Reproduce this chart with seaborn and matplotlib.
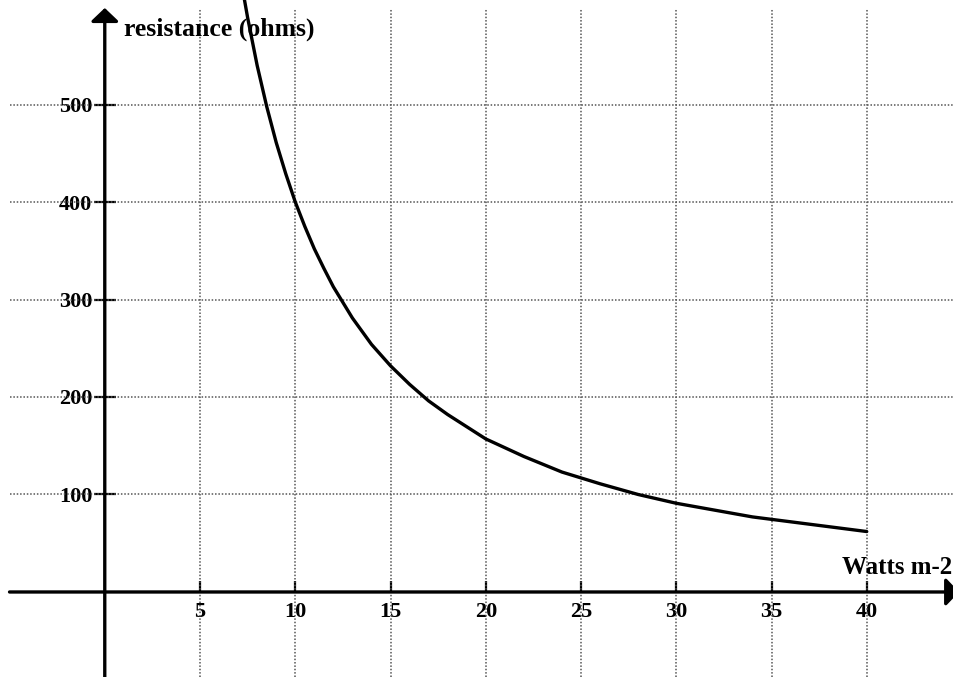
import matplotlib
matplotlib.use("Agg")
import matplotlib.pyplot as plt
import seaborn as sns
import pandas as pd

# ---- data ----
watts = [7.2, 7.5, 8, 8.5, 9, 9.5, 10, 10.5, 11, 11.5, 12, 13, 14, 15, 16, 17, 18,
         20, 22, 24, 26, 28, 30, 32, 34, 36, 38, 40]
resistance = [622, 589, 540, 498, 461, 429, 400, 375, 352, 332, 313, 281, 254, 232,
              213, 196, 182, 157, 139, 123, 111, 100, 91, 84, 77, 72, 67, 62]
x_ticks = [5, 10, 15, 20, 25, 30, 35, 40]
x_tick_labels = ["5", "10", "15", "20", "25", "30", "35", "40"]
y_ticks = [100, 200, 300, 400, 500]
y_tick_labels = ["100", "200", "300", "400", "500"]
y_title = "resistance (ohms)"
x_title = "Watts m-2"

df = pd.DataFrame({"watts": watts, "resistance": resistance})

sns.set_style("white")
plt.rcParams["font.family"] = ["Liberation Serif", "DejaVu Serif"]
plt.rcParams["text.color"] = "black"
plt.rcParams["xtick.color"] = "black"
plt.rcParams["ytick.color"] = "black"

fig = plt.figure(figsize=(9.54, 6.77), dpi=100)
ax = fig.add_axes([0, 0, 1, 1])
ax.set_xlim(-5.5, 44.58)
ax.set_ylim(-87.2, 607.2)

# dotted grid
grid_kw = dict(color="#555555", linewidth=1.1, linestyle=(0, (1, 1.2)), zorder=1)
ax.vlines(x_ticks, -87.2, 598, **grid_kw)
ax.hlines(y_ticks, -5.0, 44.58, **grid_kw)

# curve
sns.lineplot(data=df, x="watts", y="resistance", color="black", linewidth=2.4,
             sort=False, ax=ax, zorder=4)

# axes through the origin
for s in ax.spines.values():
    s.set_visible(False)
ax.spines["left"].set_position(("data", 0))
ax.spines["bottom"].set_position(("data", 0))

ax.set_xticks(x_ticks)
ax.set_xticklabels(x_tick_labels)
ax.set_yticks(y_ticks)
ax.set_yticklabels(y_tick_labels)
ax.tick_params(axis="x", bottom=True, top=False, direction="in", length=8,
               width=1.6, color="black", labelcolor="black", pad=7, labelsize=16)
ax.tick_params(axis="y", left=True, right=False, direction="inout", length=16,
               width=1.6, color="black", labelcolor="black", pad=1.0, labelsize=16)
for lab in ax.get_xticklabels() + ax.get_yticklabels():
    lab.set_fontweight("bold")
ax.set_xlabel("")
ax.set_ylabel("")

arrow_kw = dict(arrowstyle="-|>,head_length=0.4,head_width=0.42", lw=2.4,
                color="black", mutation_scale=20, shrinkA=0, shrinkB=0)
ax.annotate("", xy=(0, 599), xytext=(0, -87.2), arrowprops=arrow_kw,
            annotation_clip=False, zorder=5)
ax.annotate("", xy=(44.85, 0), xytext=(-5.0, 0), arrowprops=arrow_kw,
            annotation_clip=False, zorder=5)

ax.text(1.0, 571, y_title, ha="left", va="baseline", fontsize=18.5,
        fontweight="bold", color="black", zorder=6)
ax.text(44.5, 18.5, x_title, ha="right", va="baseline", fontsize=18,
        fontweight="bold", color="black", zorder=6)

fig.savefig("out.png", dpi=100)
